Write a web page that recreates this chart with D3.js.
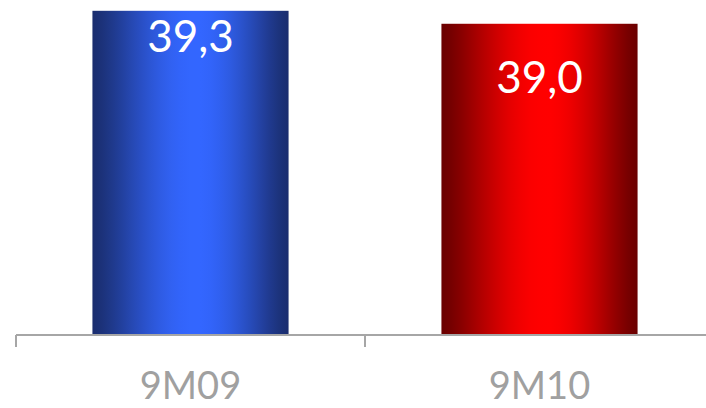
<!DOCTYPE html>
<html>
<head>
<meta charset="utf-8">
<script src="https://cdn.jsdelivr.net/npm/d3@7"></script>
<style>
  html, body { margin: 0; padding: 0; background: #fff; }
  svg { display: block; }
</style>
</head>
<body>
<svg id="chart" width="706" height="408"></svg>
<script>
// Data
const categories = ["9M09", "9M10"];
const values = [39.3, 39.0];
const valueLabels = ["39,3", "39,0"];
const labelOffsets = [41, 69];          // label baseline below the bar top
const gradientIds = ["gradBlue", "gradRed"];
const gradientDark = ["#1a2d6e", "#6a0000"];
const gradientLight = ["#3366ff", "#ff0000"];

const width = 706, height = 408;
const svg = d3.select("#chart");

const baseY = 335;
const y = d3.scaleLinear().domain([31.8, 39.55]).range([baseY, 0]);
const x = d3.scaleBand().domain(categories).range([16, 714]).padding(0);
const barFrac = 0.562;
const bw = x.bandwidth() * barFrac;

// Horizontal gradients with a soft highlight for a cylindrical look
const defs = svg.append("defs");
const peak = 0.53;
const stopOffsets = d3.range(0, 1.0001, 0.05);
categories.forEach((c, i) => {
  const g = defs.append("linearGradient")
    .attr("id", gradientIds[i])
    .attr("x1", "0%").attr("x2", "100%").attr("y1", "0%").attr("y2", "0%");
  const mix = d3.interpolateRgb(gradientDark[i], gradientLight[i]);
  stopOffsets.forEach(o => {
    const t = o <= peak ? o / peak : (1 - o) / (1 - peak);
    const s = Math.sin(t * Math.PI / 2);
    g.append("stop").attr("offset", o).attr("stop-color", mix(Math.pow(s, 1.3)));
  });
});

// Bars
svg.append("g").selectAll("rect")
  .data(categories)
  .join("rect")
  .attr("x", c => x(c) + (x.bandwidth() - bw) / 2)
  .attr("y", (c, i) => y(values[i]))
  .attr("width", bw)
  .attr("height", (c, i) => y.range()[0] - y(values[i]))
  .attr("fill", (c, i) => `url(#${gradientIds[i]})`);

// Value labels inside bars
svg.append("g").selectAll("text")
  .data(categories)
  .join("text")
  .attr("x", c => x(c) + x.bandwidth() / 2)
  .attr("y", (c, i) => y(values[i]) + labelOffsets[i])
  .attr("text-anchor", "middle")
  .attr("fill", "#ffffff")
  .style("font-family", "Lato, sans-serif")
  .style("font-size", "44px")
  .text((c, i) => valueLabels[i]);

// Category axis with ticks at the band boundaries
const axisColor = "#a6a6a6";
const axis = svg.append("g");
const r = x.range();
axis.append("line")
  .attr("x1", r[0]).attr("x2", r[1])
  .attr("y1", baseY).attr("y2", baseY)
  .attr("stroke", axisColor).attr("stroke-width", 2);
const bounds = categories.map(c => x(c)).concat([x(categories[categories.length - 1]) + x.step()]);
axis.selectAll("line.tick")
  .data(bounds)
  .join("line")
  .attr("class", "tick")
  .attr("x1", d => d).attr("x2", d => d)
  .attr("y1", baseY).attr("y2", baseY + 12)
  .attr("stroke", axisColor).attr("stroke-width", 2);
axis.selectAll("text")
  .data(categories)
  .join("text")
  .attr("x", c => x(c) + x.bandwidth() / 2)
  .attr("y", 399)
  .attr("text-anchor", "middle")
  .attr("fill", "#a0a0a0")
  .style("font-family", "Lato, sans-serif")
  .style("font-size", "38px")
  .text(c => c);
</script>
</body>
</html>
